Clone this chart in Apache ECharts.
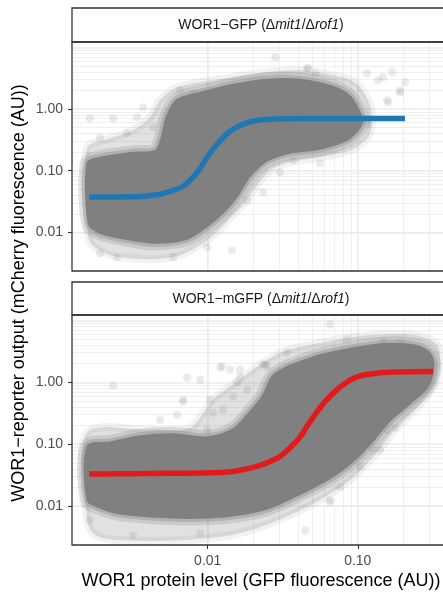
<!DOCTYPE html>
<html><head><meta charset="utf-8">
<script src="https://cdn.jsdelivr.net/npm/echarts@6/dist/echarts.min.js"></script>
<style>html,body{margin:0;padding:0;background:#fff}#c{width:443px;height:594px}</style>
</head><body><div id="c"></div>
<script>
// ---------- data ----------
const panelLabels = [
  ['WOR1−GFP (Δ', 'mit1', '/Δ', 'rof1', ')'],
  ['WOR1−mGFP (Δ', 'mit1', '/Δ', 'rof1', ')']
];
const xTitle = 'WOR1 protein level (GFP fluorescence (AU))';
const yTitle = 'WOR1−reporter output (mCherry fluorescence (AU))';

const xTicks = [0.01, 0.1];
const xTickLabels = ['0.01', '0.10'];
const yTicks = [0.01, 0.1, 1];
const yTickLabels = ['0.01', '0.10', '1.00'];

const xGridMajor = [0.01, 0.1];
const xGridMinor = [0.002, 0.003, 0.004, 0.005, 0.006, 0.007, 0.008, 0.009,
                    0.02, 0.03, 0.04, 0.05, 0.06, 0.07, 0.08, 0.09, 0.2, 0.3];
const yGridMajor = [0.01, 0.1, 1, 10];
const yGridMinor = [0.003, 0.004, 0.005, 0.006, 0.007, 0.008, 0.009,
                    0.02, 0.03, 0.04, 0.05, 0.06, 0.07, 0.08, 0.09,
                    0.2, 0.3, 0.4, 0.5, 0.6, 0.7, 0.8, 0.9,
                    2, 3, 4, 5, 6, 7, 8, 9];

// panel 1: WOR1-GFP — dense point cloud (core envelope, outer halo), sparse points, fitted curve
const gfpCoreX = [0.00159, 0.00191, 0.00318, 0.00459, 0.00536, 0.00624, 0.00889, 0.0148, 0.0248, 0.0412, 0.0684, 0.0889, 0.1005, 0.1069,
                  0.0989, 0.0822, 0.0561, 0.0354, 0.0248, 0.0191, 0.0157, 0.0130, 0.01035, 0.00728, 0.00432, 0.00260, 0.00191, 0.00162];
const gfpCoreY = [0.132, 0.159, 0.191, 0.214, 0.734, 1.38, 1.79, 2.42, 2.92, 2.92, 2.25, 1.55, 0.953, 0.656,
                  0.452, 0.311, 0.231, 0.199, 0.148, 0.0842, 0.0399, 0.0228, 0.0140, 0.00802, 0.00692, 0.00833, 0.0100, 0.0140];
const gfpHaloX = [0.00157, 0.00223, 0.00318, 0.00412, 0.00481, 0.00605, 0.00889, 0.0148, 0.0248, 0.0412, 0.0684, 0.0959, 0.1172, 0.1245, 0.1172,
                  0.0889, 0.0561, 0.0354, 0.0260, 0.02065, 0.01718, 0.01409, 0.01153, 0.00931, 0.00653, 0.00432, 0.00260, 0.00200, 0.00164, 0.00157];
const gfpHaloY = [0.231, 0.335, 0.452, 0.734, 1.38, 2.16, 2.71, 3.26, 3.94, 4.24, 3.52, 2.71, 1.38, 0.656, 0.348,
                  0.214, 0.165, 0.137, 0.1016, 0.0519, 0.0275, 0.0169, 0.0100, 0.00666, 0.00425, 0.00366, 0.00394, 0.00476, 0.00692, 0.0146];
const gfpSparseX = [0.0282, 0.0467, 0.1153, 0.1694, 0.2065, 0.1914, 0.1365, 0.1567, 0.00653, 0.00798, 0.00164, 0.00234, 0.00371, 0.00338,
                    0.00191, 0.0029, 0.00432, 0.0145, 0.0303, 0.0234, 0.0183, 0.0371, 0.0561, 0.0849, 0.00191, 0.00248, 0.00588, 0.0099,
                    0.1172, 0.0459, 0.0521, 0.1476, 0.1596, 0.1914];
const gfpSparseY = [6.89, 4.57, 3.79, 3.94, 2.71, 2.01, 2.92, 1.38, 2.01, 1.79, 0.707, 0.707, 1.07, 0.734,
                    0.348, 0.403, 0.505, 0.00513, 0.0942, 0.0447, 0.0331, 0.148, 0.132, 0.348, 0.00458, 0.00394, 0.00394, 0.00574,
                    0.585, 4.57, 3.79, 3.26, 1.28, 1.86];
const gfpFitX = [0.00162, 0.00303, 0.00481, 0.00588, 0.00684, 0.00798, 0.00889, 0.0099, 0.01153, 0.01409, 0.01718, 0.0207, 0.026, 0.0412, 0.0959, 0.2065];
const gfpFitY = [0.0375, 0.0376, 0.0415, 0.0481, 0.0559, 0.0782, 0.109, 0.165, 0.268, 0.435, 0.565, 0.644, 0.681, 0.699, 0.70, 0.70];

// panel 2: WOR1-mGFP
const mgfpCoreX = [0.00159, 0.00223, 0.00354, 0.00588, 0.00989, 0.01476, 0.01914, 0.02339, 0.02723, 0.03381, 0.0412, 0.0536, 0.0889, 0.1476, 0.2483, 0.3034, 0.3177,
                   0.2897, 0.2234, 0.1641, 0.1265, 0.0989, 0.0728, 0.0504, 0.0354, 0.0248, 0.0164, 0.01035, 0.00561, 0.0026, 0.00191, 0.00159];
const mgfpCoreY = [0.091, 0.105, 0.132, 0.142, 0.127, 0.171, 0.323, 0.586, 1.24, 1.73, 2.08, 2.61, 3.39, 4.08, 3.79, 2.81, 1.73,
                   0.852, 0.469, 0.248, 0.118, 0.0625, 0.0344, 0.0204, 0.0135, 0.0093, 0.00745, 0.00666, 0.00666, 0.00773, 0.00966, 0.0126];
const mgfpHaloX = [0.00157, 0.00412, 0.00764, 0.01084, 0.0164, 0.02234, 0.03177, 0.0536, 0.0889, 0.1476, 0.2483, 0.3381, 0.354, 0.3273,
                   0.2427, 0.1778, 0.1303, 0.0889, 0.0561, 0.0354, 0.02234, 0.01409, 0.00653, 0.0026, 0.00178, 0.00157];
const mgfpHaloY = [0.153, 0.171, 0.184, 0.524, 1.11, 1.94, 3.15, 4.24, 5.30, 5.93, 5.71, 4.08, 1.94, 0.918,
                   0.361, 0.171, 0.0673, 0.0265, 0.0126, 0.00718, 0.00458, 0.0034, 0.00282, 0.00282, 0.0034, 0.00594];
const mgfpSparseX = [0.0653, 0.0849, 0.1476, 0.1914, 0.3034, 0.00234, 0.00728, 0.00889, 0.0121, 0.0141, 0.0157, 0.0248, 0.00684, 0.01084,
                     0.01476, 0.0183, 0.0099, 0.0653, 0.1265, 0.1035, 0.0762, 0.00164, 0.00318, 0.00889, 0.0446, 0.0653, 0.141,
                     0.01245, 0.0164, 0.02415, 0.03381, 0.00481, 0.00684, 0.00624, 0.01035, 0.1567, 0.1778, 0.0164, 0.0234, 0.01265];
const mgfpSparseY = [8.61, 4.92, 4.57, 4.4, 1.80, 0.885, 1.19, 1.10, 1.73, 1.61, 0.99, 1.80, 0.524, 0.323,
                     0.586, 0.76, 0.171, 0.0126, 0.0811, 0.0431, 0.0204, 0.00594, 0.0034, 0.00366, 0.00406, 0.0116, 0.0811,
                     1.79, 1.61, 1.94, 3.03, 0.248, 0.487, 0.30, 0.524, 0.171, 0.184, 1.24, 1.94, 0.361];
const mgfpFitX = [0.00162, 0.00412, 0.00889, 0.01476, 0.02065, 0.02483, 0.0303, 0.0354, 0.0412, 0.0459, 0.0536, 0.0624, 0.0728, 0.0849, 0.0989, 0.1153, 0.1718, 0.3177];
const mgfpFitY = [0.0331, 0.0338, 0.0343, 0.0364, 0.0431, 0.0500, 0.0632, 0.0874, 0.130, 0.195, 0.335, 0.530, 0.762, 1.010, 1.22, 1.34, 1.46, 1.49];

const panels = [
  {core: [gfpCoreX, gfpCoreY], halo: [gfpHaloX, gfpHaloY], sparse: [gfpSparseX, gfpSparseY], fit: [gfpFitX, gfpFitY], color: '#1F78B4'},
  {core: [mgfpCoreX, mgfpCoreY], halo: [mgfpHaloX, mgfpHaloY], sparse: [mgfpSparseX, mgfpSparseY], fit: [mgfpFitX, mgfpFitY], color: '#E31A1C'}
];

// ---------- layout ----------
const FONT = 'Liberation Sans, Arial, Helvetica, sans-serif';
// plotting area is cut by the right edge of the picture; the panel frame continues past it
const gridBoxes = [
  {left: 72, top: 42, width: 371, height: 229},
  {left: 72, top: 315, width: 371, height: 230}
];
const FRAME_W = 378;
const stripBoxes = [{top: 8, height: 34}, {top: 282, height: 33}];
const X_MIN = 0.001245, X_MAX = 0.370, Y_MIN = 0.00236, Y_MAX = 12.2;

const zip = (a, b) => a.map((v, i) => [v, b[i]]);
function labelFmt(ticks, labels) {
  return v => {
    const i = ticks.findIndex(t => Math.abs(Math.log10(t) - Math.log10(v)) < 1e-6);
    return i >= 0 ? labels[i] : '';
  };
}
// layered polygon: soft fuzzy rim made from wide translucent strokes under a solid fill
function polygonSeries(p, xs, ys, layers, z) {
  return {
    type: 'custom', xAxisIndex: p, yAxisIndex: p, silent: true, clip: true, z: z,
    data: zip(xs, ys), encode: {x: 0, y: 1}, animation: false,
    renderItem: (params, api) => {
      if (params.dataIndex !== 0) return null;
      const pts = xs.map((x, i) => api.coord([x, ys[i]]));
      return {
        type: 'group',
        children: layers.map(st => ({type: 'polygon', shape: {points: pts, smooth: 0.3}, style: st}))
      };
    }
  };
}

const xAxes = [], yAxes = [], series = [], graphics = [];
panels.forEach((pn, p) => {
  const isBottom = p === panels.length - 1;
  xAxes.push({
    type: 'log', gridIndex: p, min: X_MIN, max: X_MAX,
    splitLine: {show: false},
    axisLine: {show: false},
    axisTick: {show: isBottom, length: 4, customValues: xTicks, lineStyle: {color: '#333333', width: 1.1}},
    axisLabel: {show: isBottom, customValues: xTicks, formatter: labelFmt(xTicks, xTickLabels),
                color: '#4d4d4d', fontSize: 14, fontFamily: FONT, margin: 9},
    name: '', nameTextStyle: {color: '#000', fontSize: 18, fontFamily: FONT}
  });
  yAxes.push({
    type: 'log', gridIndex: p, min: Y_MIN, max: Y_MAX,
    splitLine: {show: false},
    axisLine: {show: false},
    axisTick: {show: true, length: 4, customValues: yTicks, lineStyle: {color: '#333333', width: 1.1}},
    axisLabel: {customValues: yTicks, formatter: labelFmt(yTicks, yTickLabels),
                color: '#4d4d4d', fontSize: 14, fontFamily: FONT, margin: 9}
  });

  series.push(polygonSeries(p, pn.halo[0], pn.halo[1], [
    {fill: 'none', stroke: 'rgba(128,128,128,0.10)', lineWidth: 8, lineJoin: 'round'},
    {fill: 'rgba(128,128,128,0.24)', stroke: 'none'}
  ], 2));
  series.push(polygonSeries(p, pn.core[0], pn.core[1], [
    {fill: 'none', stroke: 'rgba(128,128,128,0.22)', lineWidth: 16, lineJoin: 'round'},
    {fill: 'none', stroke: 'rgba(128,128,128,0.35)', lineWidth: 9, lineJoin: 'round'},
    {fill: '#808080', stroke: '#808080', lineWidth: 3, lineJoin: 'round'}
  ], 3));
  series.push({
    type: 'scatter', xAxisIndex: p, yAxisIndex: p, silent: true, z: 4, animation: false,
    data: zip(pn.sparse[0], pn.sparse[1]), symbolSize: 8,
    itemStyle: {color: 'rgba(128,128,128,0.2)'},
    markLine: {
      silent: true, symbol: 'none', z: 1, animation: false, label: {show: false},
      emphasis: {disabled: true},
      data: [
        ...xGridMinor.map(v => ({xAxis: v, lineStyle: {color: '#ebebeb', width: 0.8, type: 'solid'}})),
        ...yGridMinor.map(v => ({yAxis: v, lineStyle: {color: '#ebebeb', width: 0.8, type: 'solid'}})),
        ...xGridMajor.map(v => ({xAxis: v, lineStyle: {color: '#ebebeb', width: 1.6, type: 'solid'}})),
        ...yGridMajor.map(v => ({yAxis: v, lineStyle: {color: '#ebebeb', width: 1.6, type: 'solid'}}))
      ]
    }
  });
  series.push({
    type: 'line', xAxisIndex: p, yAxisIndex: p, silent: true, z: 6, animation: false,
    data: zip(pn.fit[0], pn.fit[1]), showSymbol: false, symbol: 'none',
    smooth: 0.3,
    lineStyle: {color: pn.color, width: 5.5, cap: 'butt', join: 'round'}
  });

  const g = gridBoxes[p], s = stripBoxes[p];
  graphics.push({
    type: 'rect', z: 100, silent: true,
    shape: {x: g.left, y: s.top, width: FRAME_W, height: s.height},
    style: {fill: '#ffffff', stroke: '#333333', lineWidth: 1.3}
  });
  const lab = panelLabels[p];
  graphics.push({
    type: 'text', z: 101, silent: true,
    x: g.left + FRAME_W / 2, y: s.top + s.height / 2 + 0.5,
    style: {
      text: `{n|${lab[0]}}{i|${lab[1]}}{n|${lab[2]}}{i|${lab[3]}}{n|${lab[4]}}`,
      align: 'center', verticalAlign: 'middle',
      rich: {
        n: {fontSize: 14, fontFamily: FONT, fill: '#1a1a1a', color: '#1a1a1a'},
        i: {fontSize: 14, fontFamily: FONT, fontStyle: 'italic', fill: '#1a1a1a', color: '#1a1a1a'}
      }
    }
  });
  graphics.push({
    type: 'rect', z: 100, silent: true,
    shape: {x: g.left, y: g.top, width: FRAME_W, height: g.height},
    style: {fill: 'none', stroke: '#333333', lineWidth: 1.3}
  });
});
// axis titles (x title centred on the full panel frame, y title shared by both panels)
graphics.push({
  type: 'text', z: 101, silent: true, x: 72 + FRAME_W / 2, y: 581,
  style: {text: xTitle, fontSize: 18, fontFamily: FONT, fill: '#000', align: 'center', verticalAlign: 'middle'}
});
graphics.push({
  type: 'text', z: 101, silent: true, x: 19.5, y: 293, rotation: Math.PI / 2,
  style: {text: yTitle, fontSize: 18, fontFamily: FONT, fill: '#000', align: 'center', verticalAlign: 'middle'}
});

const chart = echarts.init(document.getElementById('c'), null, {renderer: 'canvas'});
chart.setOption({
  animation: false,
  backgroundColor: '#ffffff',
  grid: gridBoxes.map(b => Object.assign({containLabel: false}, b)),
  xAxis: xAxes,
  yAxis: yAxes,
  series: series,
  graphic: {elements: graphics}
});
</script>
</body></html>
